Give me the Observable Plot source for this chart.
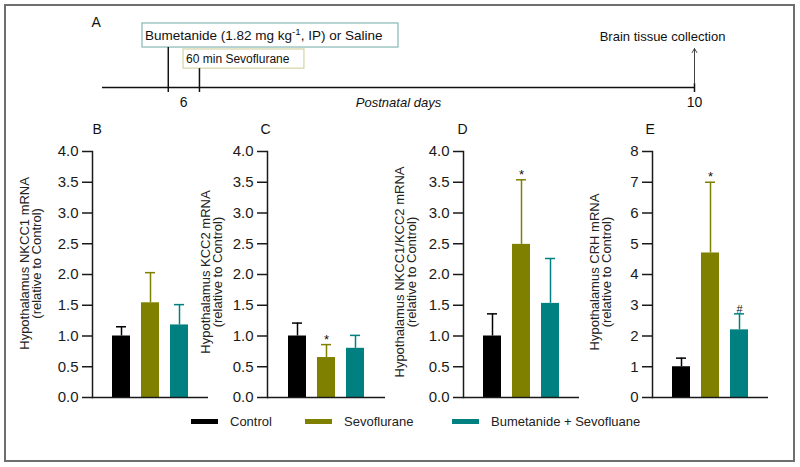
<!DOCTYPE html>
<html><head><meta charset="utf-8">
<script src="https://cdn.jsdelivr.net/npm/d3@7"></script>
<script src="https://cdn.jsdelivr.net/npm/@observablehq/plot@0.6"></script>
<style>
body{margin:0;background:#fff;font-family:"Liberation Sans",Arial,sans-serif;}
#fig{position:relative;width:800px;height:467px;overflow:hidden;background:#fff;}
#frame{position:absolute;left:4px;top:4px;width:791px;height:458px;border:2px solid #6e6e6e;box-sizing:border-box;}
.panel{position:absolute;}
.panel svg{overflow:visible;}
.leg{position:absolute;top:413px;height:16px;font-size:13px;color:#222;display:flex;align-items:center;white-space:nowrap;}
.sw{width:27px;height:5px;margin-right:12px;}
</style></head><body><div id="fig"><div id="frame"></div></div>
<script>
// ---- data ----
const groups = ["Control", "Sevoflurane", "Bumetanide + Sevofluane"];
const groupColors = ["#000000", "#808000", "#008080"];

const nkcc1Mean = [1.00, 1.54, 1.18];
const nkcc1Err  = [1.15, 2.03, 1.51];
const nkcc1Sig  = ["", "", ""];

const kcc2Mean = [1.00, 0.65, 0.80];
const kcc2Err  = [1.21, 0.86, 1.01];
const kcc2Sig  = ["", "*", ""];

const ratioMean = [1.00, 2.49, 1.53];
const ratioErr  = [1.36, 3.54, 2.26];
const ratioSig  = ["", "*", ""];

const crhMean = [1.00, 4.70, 2.20];
const crhErr  = [1.28, 7.00, 2.72];
const crhSig  = ["", "*", "#"];

const ticksHalf = [0, 0.5, 1, 1.5, 2, 2.5, 3, 3.5, 4];
const ticksInt  = [0, 1, 2, 3, 4, 5, 6, 7, 8];

// timeline (postnatal days)
const timelineDays = [5.5, 10];
const timelineEvents = [
  {day: 6.0,   top: 0.615},
  {day: 6.237, top: 0.29},
  {day: 10,    top: 0.06}
];
const dayLabels = [{day: 6.117, label: "6"}, {day: 10, label: "10"}];
const boxes = [
  {x1: 5.804, x2: 7.75,  y1: 0.615, y2: 0.985, ty: 0.79, label: "Bumetanide (1.82 mg kg-1, IP) or Saline", stroke: "#86b8b4", size: 13.5},
  {x1: 6.116, x2: 7.035, y1: 0.29,  y2: 0.585, ty: 0.43, label: "60 min Sevoflurane", stroke: "#d6d3a6", size: 12}
];

const FONT = "'Liberation Sans', Arial, sans-serif";
const fig = document.getElementById("fig");

// ---- panel A: timeline ----
const tl = Plot.plot({
  width: 800, height: 112, margin: 0,
  x: {domain: timelineDays, range: [102, 694], axis: null},
  y: {domain: [0, 1], range: [87, 22], axis: null},
  style: {fontFamily: FONT, fontSize: "13px", background: "transparent", color: "#111", overflow: "visible"},
  marks: [
    Plot.rect(boxes, {x1: "x1", x2: "x2", y1: "y1", y2: "y2", fill: "none", stroke: "stroke", strokeWidth: 1.2}),
    Plot.text(boxes, {x: "x1", y: "ty", text: "label", textAnchor: "start", dx: 2.5, fontSize: d => d.size, fill: "#111"}),
    Plot.ruleY([0], {x1: timelineDays[0], x2: timelineDays[1], stroke: "#111", strokeWidth: 1.5}),
    Plot.ruleX(timelineEvents, {x: "day", y1: -0.077, y2: "top", stroke: "#111", strokeWidth: 1.5}),
    Plot.arrow([{day: 10}], {x1: "day", x2: "day", y1: 0.06, y2: 0.6, stroke: "#444", strokeWidth: 1, headLength: 7}),
    Plot.text(dayLabels, {x: "day", y: -0.23, text: "label", fontSize: 14, fill: "#111"}),
    Plot.text(["Postnatal days"], {x: 7.75, y: -0.23, fontStyle: "italic", fontSize: 13, fill: "#111"}),
    Plot.text(["Brain tissue collection"], {x: 9.757, y: 0.775, fontSize: 13, fill: "#111"}),
    Plot.text(["A"], {x: 5.416, y: 1.0, textAnchor: "start", fontSize: 14, fill: "#111"})
  ]
});
// superscript for kg-1
d3.select(tl).selectAll("text").each(function () {
  if (this.textContent.includes("kg-1")) {
    const parts = this.textContent.split("kg-1");
    const s = d3.select(this);
    s.text(null);
    s.append("tspan").text(parts[0] + "kg");
    s.append("tspan").attr("dy", -5).attr("font-size", "0.72em").text("-1");
    s.append("tspan").attr("dy", 5).text(parts[1]);
  }
});
const tlDiv = document.createElement("div");
tlDiv.className = "panel";
tlDiv.style.left = "0px"; tlDiv.style.top = "0px";
tlDiv.appendChild(tl);
fig.appendChild(tlDiv);

// ---- bar panels ----
const panels = [
  {letter: "B", mean: nkcc1Mean, err: nkcc1Err, sig: nkcc1Sig, max: 4, ticks: ticksHalf, fmt: ".1f",
   label: "Hypothalamus NKCC1 mRNA\n(relative to Control)", axisX: 92, endX: 208, labelDx: -61, labelFrac: 0.545, letterDx: 0},
  {letter: "C", mean: kcc2Mean, err: kcc2Err, sig: kcc2Sig, max: 4, ticks: ticksHalf, fmt: ".1f",
   label: "Hypothalamus KCC2 mRNA\n(relative to Control)", axisX: 267, endX: 385, labelDx: -55, labelFrac: 0.51, letterDx: -7},
  {letter: "D", mean: ratioMean, err: ratioErr, sig: ratioSig, max: 4, ticks: ticksHalf, fmt: ".1f",
   label: "Hypothalamus NKCC1/KCC2 mRNA\n(relative to Control)", axisX: 463, endX: 579, labelDx: -57, labelFrac: 0.51, letterDx: -6},
  {letter: "E", mean: crhMean, err: crhErr, sig: crhSig, max: 8, ticks: ticksInt, fmt: "d",
   label: "Hypothalamus CRH mRNA\n(relative to Control)", axisX: 652, endX: 768, labelDx: -51, labelFrac: 0.51, letterDx: -7}
];

const ML = 92, MR = 6, MT = 41, PH = 246, MB = 12, TOP = 110;
for (const cfg of panels) {
  const data = groups.map((g, i) => ({g, mean: cfg.mean[i], err: cfg.err[i], sig: cfg.sig[i]}));
  const pw = cfg.endX - cfg.axisX;
  const p = Plot.plot({
    width: ML + pw + MR, height: MT + PH + MB,
    marginLeft: ML, marginRight: MR, marginTop: MT, marginBottom: MB,
    x: {domain: groups, axis: null, paddingInner: 0.37, paddingOuter: 0.68},
    y: {domain: [0, cfg.max]},
    color: {domain: groups, range: groupColors},
    style: {fontFamily: FONT, fontSize: "13px", background: "transparent", color: "#1a1a1a", overflow: "visible"},
    marks: [
      Plot.axisY({ticks: cfg.ticks, tickFormat: cfg.fmt, tickSize: 10, tickPadding: 4, fontSize: 15, stroke: "#1a1a1a", strokeWidth: 1.5, strokeOpacity: 1, label: null, fill: "#1a1a1a"}),
      Plot.frame({anchor: "left", stroke: "#1a1a1a", strokeWidth: 1.5}),
      Plot.ruleX(data, {x: "g", y1: "mean", y2: "err", stroke: "g", strokeWidth: 1.5}),
      Plot.tickY(data, {x: "g", y: "err", stroke: "g", strokeWidth: 1.5, insetLeft: 4, insetRight: 4}),
      Plot.barY(data, {x: "g", y: "mean", fill: "g"}),
      Plot.ruleY([0], {stroke: "#1a1a1a", strokeWidth: 1.5}),
      Plot.text(data.filter(d => d.sig), {x: "g", y: "err", text: "sig", lineAnchor: "bottom", dy: -1, fontSize: d => d.sig === "#" ? 11 : 13, fill: "#111"}),
      Plot.text([{t: cfg.label, y: cfg.max * cfg.labelFrac}], {y: "y", text: "t", frameAnchor: "left", textAnchor: "middle", lineAnchor: "middle", dx: cfg.labelDx, rotate: -90, lineHeight: 0.9, fontSize: 13, fill: "#222"}),
      Plot.text([cfg.letter], {frameAnchor: "top-left", textAnchor: "start", dx: cfg.letterDx, dy: -27, fontSize: 14, fill: "#111"})
    ]
  });
  const div = document.createElement("div");
  div.className = "panel";
  div.style.left = (cfg.axisX - ML) + "px";
  div.style.top = TOP + "px";
  div.appendChild(p);
  fig.appendChild(div);
}

// ---- legend ----
const legendLeft = [191, 305, 452];
groups.forEach((g, i) => {
  const item = document.createElement("div");
  item.className = "leg";
  item.style.left = legendLeft[i] + "px";
  const sw = document.createElement("div");
  sw.className = "sw";
  sw.style.background = groupColors[i];
  const tx = document.createElement("span");
  tx.textContent = g;
  item.appendChild(sw); item.appendChild(tx);
  fig.appendChild(item);
});
</script>
</body></html>
